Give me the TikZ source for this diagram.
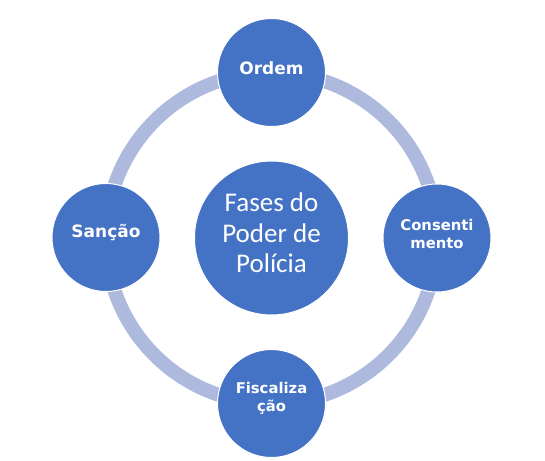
\documentclass[tikz,border=0pt]{standalone}
\usepackage{fontspec}
\newfontfamily\centerfont{Carlito}
\newfontfamily\labelfont{DejaVu Sans}
\definecolor{bluec}{HTML}{4472C4}
\definecolor{ringc}{HTML}{AEBADD}
\begin{document}
\begin{tikzpicture}[x=1pt,y=-1pt,
 ring/.style={draw=ringc, line width=14pt},
 phase/.style={circle, fill=bluec, draw=white, line width=1pt, minimum size=108pt, inner sep=0pt},
 hub/.style={circle, fill=bluec, draw=white, line width=1pt, minimum size=154pt, inner sep=0pt},
 lbl/.style={text=white, font=\labelfont\bfseries\fontsize{14.8}{17.8}\selectfont, align=center, inner sep=0pt},
 lblbig/.style={lbl, font=\labelfont\bfseries\fontsize{17}{20}\selectfont},
 hubtxt/.style={text=white, font=\centerfont\fontsize{27}{30.5}\selectfont, align=center, inner sep=0pt}]
\useasboundingbox (0,0) rectangle (545,460);
\coordinate (c) at (271.5,238);
\draw[ring] (c) circle[radius=165.5pt];
\node[hub] (hub) at (c) {};
\node[phase] (ordem) at (271.5,72.5) {};
\node[phase] (cons) at (437,238) {};
\node[phase] (fisc) at (271.5,403.5) {};
\node[phase] (sanc) at (106,237.5) {};
\node[hubtxt] (hubt) at (271.5,233) {Fases do\\Poder de\\Polícia};
\node[lblbig] (ordemt) at (271.5,68) {Ordem};
\node[lbl] (const) at (437,234) {Consenti\\mento};
\node[lbl] (fisct) at (271.5,398) {Fiscaliza\\ção};
\node[lblbig] (sanct) at (106,233) {Sanção};
\end{tikzpicture}
\end{document}
